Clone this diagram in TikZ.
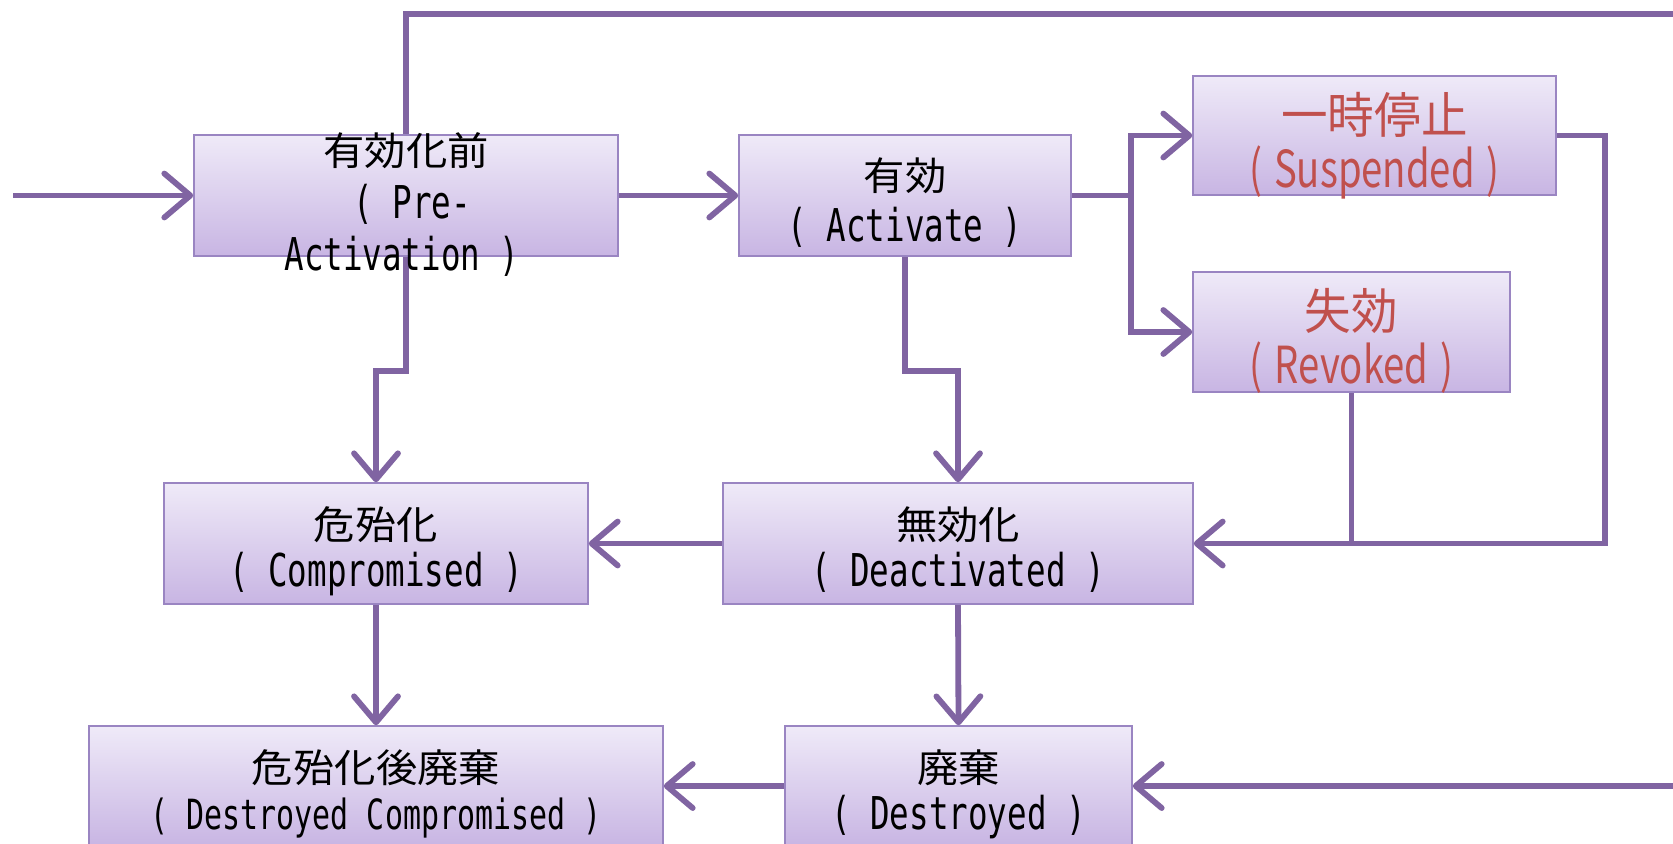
\documentclass[tikz,border=0pt]{standalone}
\usepackage{fontspec}
\usetikzlibrary{arrows.meta,fit}
\newfontfamily\jpb[FakeStretch=1.06]{Noto Sans CJK JP}
\newfontfamily\lab[FakeStretch=0.72]{DejaVu Sans Mono}
\newfontfamily\jpr[FakeStretch=0.95]{Noto Sans CJK JP}
\newfontfamily\lar[FakeStretch=0.75]{Noto Sans CJK JP}
\definecolor{lncol}{HTML}{8064A2}
\definecolor{bordcol}{HTML}{9A85C2}
\definecolor{boxtop}{HTML}{EFEAF8}
\definecolor{boxbot}{HTML}{C8B5E3}
\definecolor{redtxt}{HTML}{C0504D}
\tikzset{
  ln/.style={draw=lncol, line width=2.9pt},
  arr/.style={ln, -{Straight Barb[length=13pt, width=22pt, round]}},
  box/.style={draw=bordcol, line width=0.8pt, top color=boxtop, bottom color=boxbot, inner sep=0pt},
  jb/.style={inner sep=0pt, anchor=base, font=\jpb\fontsize{19.5}{20}\selectfont},
  lb/.style={inner sep=0pt, anchor=base, font=\lab\fontsize{22.6}{24}\selectfont},
  lbs/.style={inner sep=0pt, anchor=base, font=\lab\fontsize{20.8}{22}\selectfont},
  jr/.style={inner sep=0pt, anchor=base, text=redtxt, font=\jpr\fontsize{24.5}{26}\selectfont},
  lr/.style={inner sep=0pt, anchor=base, text=redtxt, font=\lar\fontsize{25.5}{27}\selectfont}
}
\begin{document}
\begin{tikzpicture}[x=0.5pt, y=-0.5pt]
\useasboundingbox (0,0) rectangle (1673,843);
\clip (0,0) rectangle (1673,843);
% boxes
\node[box, fit={(194,135) (618,256)}] (pre) {};
\node[box, fit={(739,135) (1071,256)}] (act) {};
\node[box, fit={(1193,76) (1556,195)}] (susp) {};
\node[box, fit={(1193,272) (1510,392)}] (rev) {};
\node[box, fit={(164,483) (588,604)}] (comp) {};
\node[box, fit={(723,483) (1193,604)}] (deact) {};
\node[box, fit={(89,726) (663,846)}] (dc) {};
\node[box, fit={(785,726) (1132,846)}] (des) {};
% free ends
\coordinate (start) at (13,195.5);
\coordinate (topR) at (1690,14);
\coordinate (botR) at (1690,786);
\coordinate (split) at (1131,195.5);
% connectors
\draw[arr] (start) -- (pre.west);
\draw[arr] (pre.east) -- (act.west);
\draw[ln] (pre.north) -- (pre.north |- topR) -- (topR);
\draw[arr] (botR) -- (des.east);
\draw[arr] (pre.south) -- ++(0,114) -| (comp.north);
\draw[arr] (act.south) -- ++(0,114) -| (deact.north);
\draw[ln] (act.east) -- (split);
\draw[arr] (split) |- (susp.west);
\draw[arr] (split) |- (rev.west);
\draw[arr] (susp.east) -- ++(48,0) |- (deact.east);
\draw[ln] (rev.south) -- (rev.south |- deact.east);
\draw[arr] (deact.west) -- (comp.east);
\draw[arr] (comp.south) -- (dc.north);
\draw[arr] (deact.south) -- (des.north);
\draw[arr] (des.west) -- (dc.east);
% texts
\node[jb] (preJ) at ([yshift=15pt]pre.center) {有効化前};
\node[lb] (preL1) at ([xshift=3pt, yshift=-11.5pt]pre.center) {( Pre-};
\node[lb] (preL2) at ([xshift=-2pt, yshift=-37.25pt]pre.center) {Activation )};
\node[jb] (actJ) at ([yshift=2.5pt]act.center) {有効};
\node[lb] (actL) at ([yshift=-23pt]act.center) {( Activate )};
\node[jr] (suspJ) at ([yshift=1pt]susp.center) {一時停止};
\node[lr] (suspL) at ([yshift=-26pt]susp.center) {(\hspace{6pt}Suspended\hspace{6pt})};
\node[jr] (revJ) at ([yshift=1.5pt]rev.center) {失効};
\node[lr] (revL) at ([yshift=-25.5pt]rev.center) {(\hspace{6pt}Revoked\hspace{6pt})};
\node[jb] (compJ) at ([yshift=2pt]comp.center) {危殆化};
\node[lb] (compL) at ([yshift=-21.5pt]comp.center) {( Compromised )};
\node[jb] (deactJ) at ([yshift=2pt]deact.center) {無効化};
\node[lb] (deactL) at ([yshift=-21.5pt]deact.center) {( Deactivated )};
\node[jb] (dcJ) at ([yshift=2pt]dc.center) {危殆化後廃棄};
\node[lbs] (dcL) at ([yshift=-21.5pt]dc.center) {( Destroyed Compromised )};
\node[jb] (desJ) at ([yshift=2pt]des.center) {廃棄};
\node[lb] (desL) at ([yshift=-21.5pt]des.center) {( Destroyed )};
\end{tikzpicture}
\end{document}
